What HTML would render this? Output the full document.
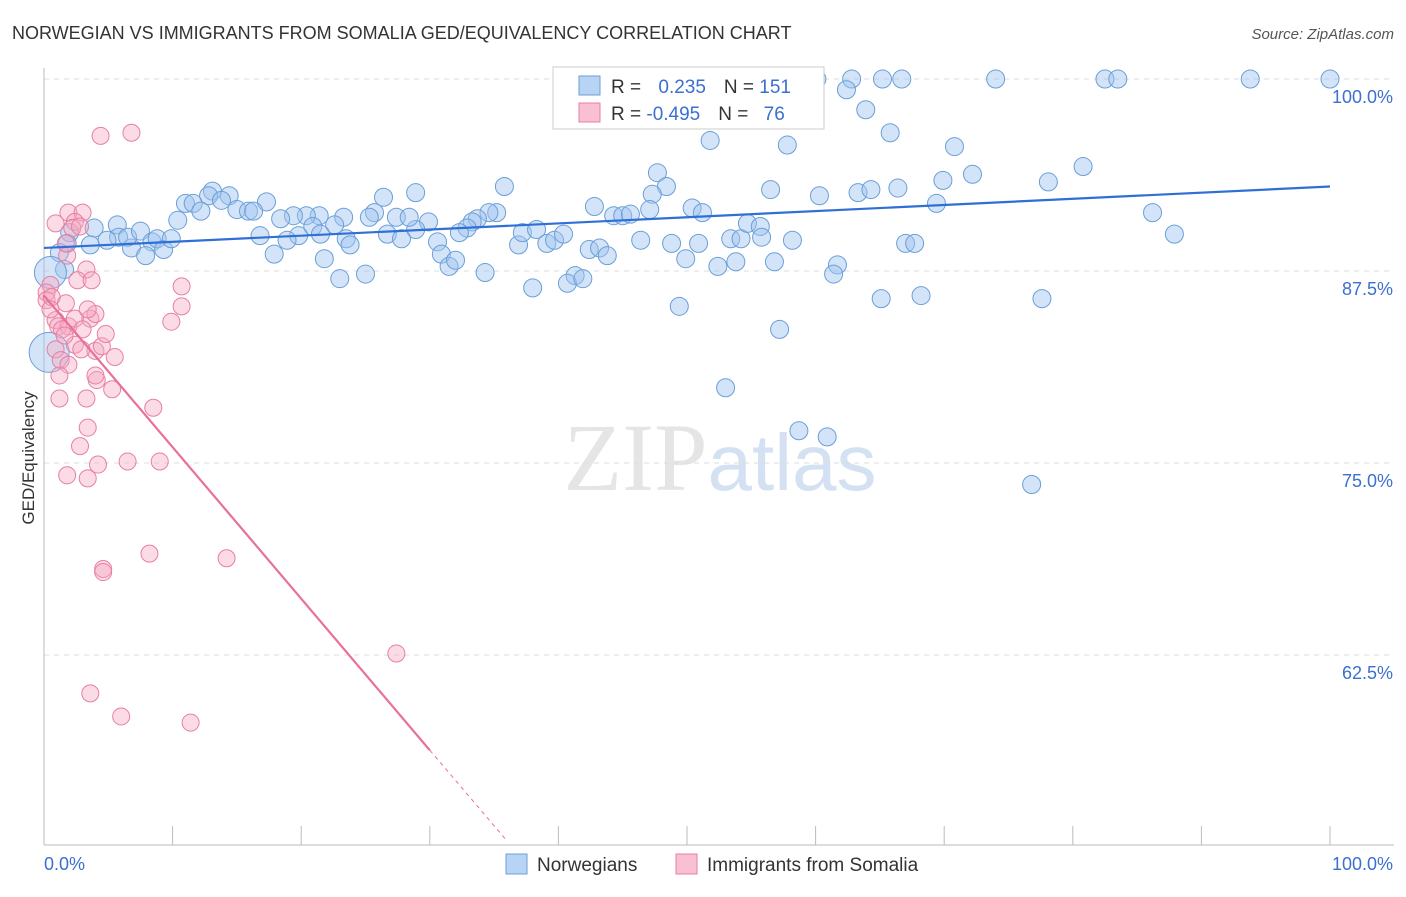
<!DOCTYPE html>
<html><head><meta charset="utf-8"><style>
body{margin:0;background:#fff;font-family:"Liberation Sans",sans-serif}
</style></head><body>
<svg id="chart" width="1406" height="892" xmlns="http://www.w3.org/2000/svg" font-family="Liberation Sans, sans-serif">
<text x="12" y="39" font-size="18" fill="#333">NORWEGIAN VS IMMIGRANTS FROM SOMALIA GED/EQUIVALENCY CORRELATION CHART</text>
<text x="1394" y="39" font-size="15" fill="#555" text-anchor="end" font-style="italic">Source: ZipAtlas.com</text>
<text x="720" y="490" font-size="96" text-anchor="middle" fill="#ccc" opacity="0.5" font-family="Liberation Serif, serif">ZIP<tspan fill="#a8c4e8" font-family="Liberation Sans, sans-serif" font-size="80">atlas</tspan></text>
<text transform="translate(34,458) rotate(-90)" font-size="17" fill="#333" text-anchor="middle">GED/Equivalency</text>
<g id="grid"></g><g id="pts"></g><g id="lines"></g>
<g>
<rect x="553" y="67" width="271" height="62" fill="#fff" stroke="#ccc"/>
<rect x="579" y="76" width="21" height="19" fill="#b8d4f4" stroke="#6a9fd8"/>
<rect x="579" y="103" width="21" height="19" fill="#f8c0d0" stroke="#e87fa3"/>
<text x="611" y="93" font-size="19" fill="#333">R = <tspan fill="#3b6fd0" dx="12">0.235</tspan><tspan dx="18">N = </tspan><tspan fill="#3b6fd0">151</tspan></text>
<text x="611" y="120" font-size="19" fill="#333">R = <tspan fill="#3b6fd0">-0.495</tspan><tspan dx="18">N = </tspan><tspan fill="#3b6fd0" dx="10">76</tspan></text>
</g>
<g>
<rect x="506" y="854" width="21" height="20" fill="#b8d4f4" stroke="#6a9fd8"/>
<text x="537" y="871" font-size="19" fill="#333">Norwegians</text>
<rect x="676" y="854" width="21" height="20" fill="#f8c0d0" stroke="#e87fa3"/>
<text x="707" y="871" font-size="19" fill="#333">Immigrants from Somalia</text>
</g>
</svg>
<script>
const bx=[60.1,62.8,65.2,66.7,74.0,82.5,83.5,93.8,100,62.4,63.9,65.8,51.8,57.8,70.8,47.7,80.8,72.2,69.9,78.1,48.4,56.5,60.3,63.3,64.3,66.4,35.8,28.9,26.4,13.1,12.8,14.4,11.0,11.6,12.2,13.8,17.3,15.0,15.9,16.3,42.8,47.3,47.1,50.4,51.2,69.4,86.2,35.2,34.6,33.7,33.3,32.9,32.3,29.9,28.9,27.4,28.4,25.7,25.3,23.3,22.6,21.4,20.4,19.4,18.4,20.9,19.8,18.9,16.8,26.7,27.8,21.5,23.5,23.8,30.6,30.9,31.5,32.0,34.3,36.9,37.2,38.3,39.1,39.7,40.4,42.4,43.2,43.8,44.3,45.0,45.6,46.4,48.8,49.9,50.9,52.4,53.4,54.2,53.8,54.7,55.7,55.8,56.8,58.2,61.7,61.4,67.0,67.7,87.9,38.0,41.3,40.7,41.9,23.0,25.0,21.8,17.9,5.7,3.9,5.8,4.9,3.6,2.0,1.8,1.2,1.6,6.8,6.5,7.5,8.4,8.8,9.3,9.9,7.9,10.4,49.4,53.0,57.2,58.7,60.9,65.1,68.2,77.6,76.8,0.5,0.4];
const by=[100,100,100,100,100,100,100,100,100,99.3,98.0,96.5,96.0,95.7,95.6,93.9,94.3,93.8,93.4,93.3,93.0,92.8,92.4,92.6,92.8,92.9,93.0,92.6,92.3,92.7,92.4,92.4,91.9,91.9,91.4,92.1,92.0,91.5,91.4,91.4,91.7,92.5,91.5,91.6,91.3,91.9,91.3,91.3,91.3,90.9,90.7,90.3,90.0,90.7,90.2,91.0,91.0,91.3,91.0,91.0,90.5,91.1,91.1,91.1,90.9,90.4,89.8,89.5,89.8,89.9,89.6,89.9,89.6,89.2,89.4,88.6,87.8,88.2,87.4,89.2,90.0,90.2,89.3,89.5,89.9,88.9,89.0,88.5,91.1,91.1,91.2,89.5,89.3,88.3,89.3,87.8,89.6,89.6,88.1,90.6,90.4,89.7,88.1,89.5,87.9,87.3,89.3,89.3,89.9,86.4,87.2,86.7,87.0,87.0,87.3,88.3,88.6,90.5,90.3,89.7,89.5,89.2,90.0,89.3,88.7,87.6,89.0,89.7,90.1,89.4,89.6,88.9,89.6,88.5,90.8,85.2,79.9,83.7,77.1,76.7,85.7,85.9,85.7,73.6,87.4,82.2];
const px=[4.4,6.8,0.9,1.9,3.0,2.4,2.2,2.8,1.8,1.7,3.3,2.6,3.7,0.5,0.2,0.2,0.6,1.7,0.9,1.1,1.9,3.6,2.4,4.0,3.4,2.4,4.0,2.9,4.1,0.9,1.3,1.9,5.5,10.7,10.7,9.9,5.3,8.5,3.3,1.2,3.4,2.8,1.2,4.2,6.5,9.0,1.8,3.4,8.2,14.2,4.6,4.6,27.4,3.6,6.0,11.4,0.5,1.4,1.6,3.0,4.5,4.8,4.0];
const py=[96.3,96.5,90.6,91.3,91.3,90.7,90.3,90.4,88.5,89.3,87.6,86.9,86.9,86.6,86.1,85.6,85.8,85.4,84.3,83.9,83.9,84.4,84.4,84.7,85.0,82.7,82.3,82.4,80.4,82.4,81.7,81.4,81.9,86.5,85.2,84.2,79.8,78.6,79.2,79.2,77.3,76.1,80.7,74.9,75.1,75.1,74.2,74.0,69.1,68.8,68.1,67.9,62.6,60.0,58.5,58.1,85.0,83.7,83.3,83.7,82.6,83.4,80.7];
const yTicks=[100,87.5,75,62.5];
const yTickLabels=["100.0%","87.5%","75.0%","62.5%"];
const blueTrend=[[0,89.0],[100,93.0]];
const pinkTrend=[[0,85.9],[30,56.3]];
const pinkTrendDash=[[30,56.3],[36,50.4]];
const X=v=>44+v*12.86, Y=v=>79+(100-v)*15.36;
const NS="http://www.w3.org/2000/svg";
function mk(t,a,p){const e=document.createElementNS(NS,t);for(const k in a)e.setAttribute(k,a[k]);p.appendChild(e);return e;}
const g=document.getElementById('grid');
yTicks.forEach((t,i)=>{
 const l=mk('line',{x1:44,x2:1394,y1:Y(t),y2:Y(t),stroke:'#ddd','stroke-dasharray':'5,5'},g);
 
 
 const tx=mk('text',{x:1393,y:Y(t)+24,'font-size':18,fill:'#3b6fd0','text-anchor':'end'},g);
 tx.textContent=yTickLabels[i];
 
 
});
const ax=mk('line',{x1:44,x2:44,y1:68,y2:845,stroke:'#bbb'},g);


const xa=mk('line',{x1:44,x2:1394,y1:845,y2:845,stroke:'#bbb'},g);


for(let i=1;i<=10;i++){const t=mk('line',{x1:X(i*10),x2:X(i*10),y1:826,y2:845,stroke:'#bbb'},g);
 
 }
[[44,'start','0.0%'],[1393,'end','100.0%']].forEach(d=>{const t=mk('text',{x:d[0],y:870,'font-size':18,fill:'#3b6fd0','text-anchor':d[1]},g);t.textContent=d[2];
 
 });
const P=document.getElementById('pts');
bx.forEach((v,i)=>{const r=i>=bx.length-2?(i==bx.length-1?20:16):9;
 const c=mk('circle',{cx:X(v),cy:Y(by[i]),r:r,fill:'rgba(160,196,240,0.45)',stroke:'#6a9fd8','stroke-width':1},P);
 
 });
px.forEach((v,i)=>{const c=mk('circle',{cx:X(v),cy:Y(py[i]),r:8.5,fill:'rgba(244,168,192,0.4)',stroke:'#e87fa3','stroke-width':1},P);
 
 });
const L=document.getElementById('lines');
const b=mk('line',{x1:X(blueTrend[0][0]),y1:Y(blueTrend[0][1]),x2:X(blueTrend[1][0]),y2:Y(blueTrend[1][1]),stroke:'#2f6fd6','stroke-width':2.2},L);


const p=mk('line',{x1:X(pinkTrend[0][0]),y1:Y(pinkTrend[0][1]),x2:X(pinkTrend[1][0]),y2:Y(pinkTrend[1][1]),stroke:'#e8709a','stroke-width':2.2},L);


const pd=mk('line',{x1:X(pinkTrendDash[0][0]),y1:Y(pinkTrendDash[0][1]),x2:X(pinkTrendDash[1][0]),y2:Y(pinkTrendDash[1][1]),stroke:'#e8709a','stroke-width':1,'stroke-dasharray':'4,4'},L);


</script>
</body></html>
